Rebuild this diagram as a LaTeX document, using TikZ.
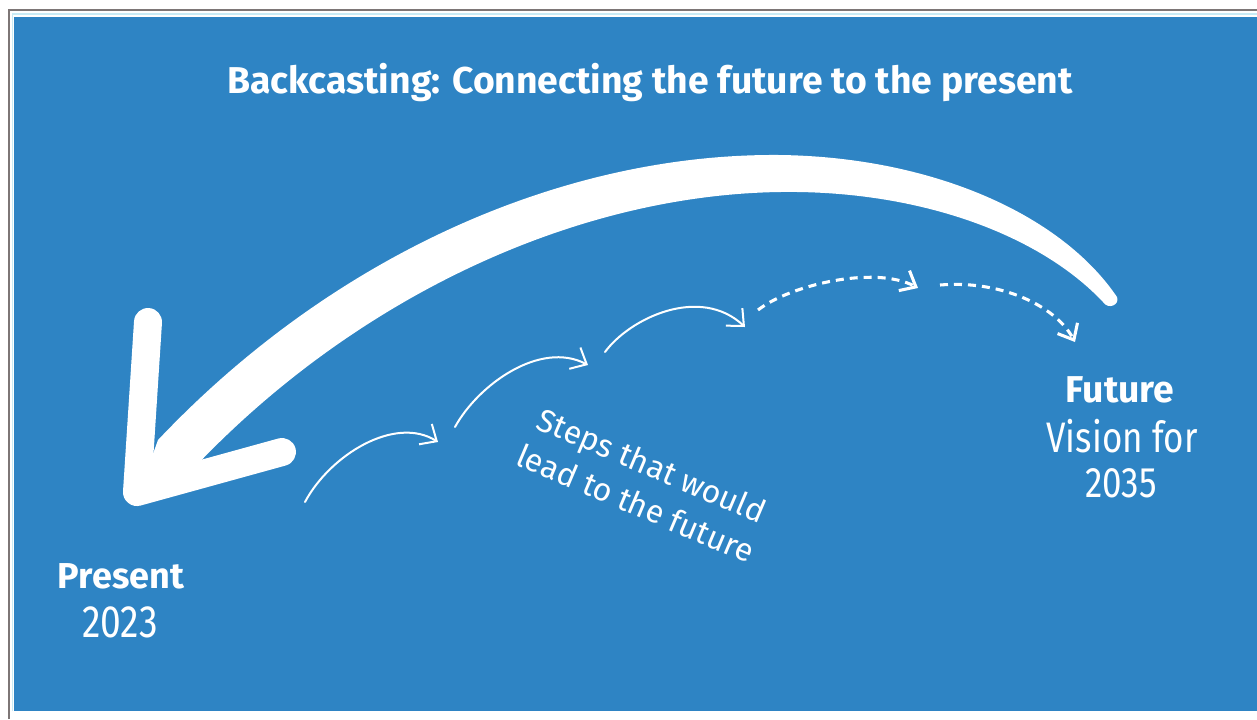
\documentclass[tikz,border=0pt]{standalone}
\usepackage{fontspec}
\setmainfont{Fira Sans}
\newfontfamily\narrowfont{Fira Sans}[FakeStretch=0.82]
\usetikzlibrary{arrows.meta}
\definecolor{bgblue}{RGB}{46,132,196}
\definecolor{framegray}{RGB}{125,118,118}
\definecolor{framecyan}{RGB}{200,235,245}

\begin{document}
\begin{tikzpicture}[x=0.75pt,y=0.75pt,yscale=-1,
  txt/.style={text=white,inner sep=0.75pt,anchor=base},
  stepline/.style={draw=white,line width=1.5pt,line cap=round,-{Straight Barb[length=10pt,width=18pt,line width=1.5pt]}},
  laterline/.style={draw=white,line width=2.3pt,dash pattern=on 6pt off 4.5pt,-{Straight Barb[length=10pt,width=17pt,line width=2.3pt]}}]
\useasboundingbox (0,0) rectangle (1257,719);

%Frame
\fill [white] (0,0) rectangle (1257,719);
\draw [framegray, line width=1.5pt] (9,719) -- (9,10) -- (1257,10);
\draw [framecyan, line width=1pt] (12.5,711) -- (12.5,14) -- (1257,14);
\fill [bgblue] (14,17) rectangle (1257,711);

%Big curved arrow (body)
\fill [white] (1117,297) .. controls (1060,213) and (930,157) .. (780,155)
  .. controls (560,153) and (330,258) .. (158,440) -- (140,490) -- (192,470)
  .. controls (350,302) and (570,195) .. (780,192)
  .. controls (920,190) and (1040,235) .. (1103,302)
  .. controls (1108,310) and (1120,305) .. cycle;
%Big curved arrow (head)
\draw [white, line width=21pt, line cap=round, line join=round] (148,322) -- (137,492) -- (282,452);

%Step arrow end points
\coordinate (s1a) at (305,502);
\coordinate (s1b) at (438,442);
\coordinate (s2a) at (455,427);
\coordinate (s2b) at (588,365);
\coordinate (s3a) at (605,352);
\coordinate (s3b) at (745,327);
\coordinate (s4a) at (758,310);
\coordinate (s4b) at (918,288);
\coordinate (s5a) at (940,285);
\coordinate (s5b) at (1075,342);

%Steps
\draw [stepline] (s1a) .. controls (330,455) and (395,415) .. (s1b);
\draw [stepline] (s2a) .. controls (478,385) and (540,340) .. (s2b);
\draw [stepline] (s3a) .. controls (630,318) and (700,285) .. (s3b);
\draw [laterline] (s4a) .. controls (790,285) and (875,265) .. (s4b);
\draw [laterline] (s5a) .. controls (1000,280) and (1055,305) .. (s5b);

% Text Node
\node [txt, font=\bfseries\fontsize{28}{32}\selectfont] (title) at (650,93) {Backcasting: Connecting the future to the present};
% Text Node
\node [txt, font=\bfseries\fontsize{27}{30}\selectfont] (present) at (121,588) {Present};
% Text Node
\node [txt, font=\narrowfont\fontsize{34}{36}\selectfont] (presentyear) at (120,637) {2023};
% Text Node
\node [txt, font=\bfseries\fontsize{28}{30}\selectfont] (future) at (1120,402) {Future};
% Text Node
\node [txt, font=\narrowfont\fontsize{32}{34}\selectfont] (vision) at (1122,452) {Vision for};
% Text Node
\node [txt, font=\narrowfont\fontsize{32}{34}\selectfont] (futureyear) at (1121,497) {2035};
% Text Node
\node [text=white, inner sep=0.75pt, align=center, rotate=-23, font=\fontsize{24}{31}\selectfont] (steps) at (644,484) {Steps that would\\lead to the future};

\end{tikzpicture}
\end{document}
